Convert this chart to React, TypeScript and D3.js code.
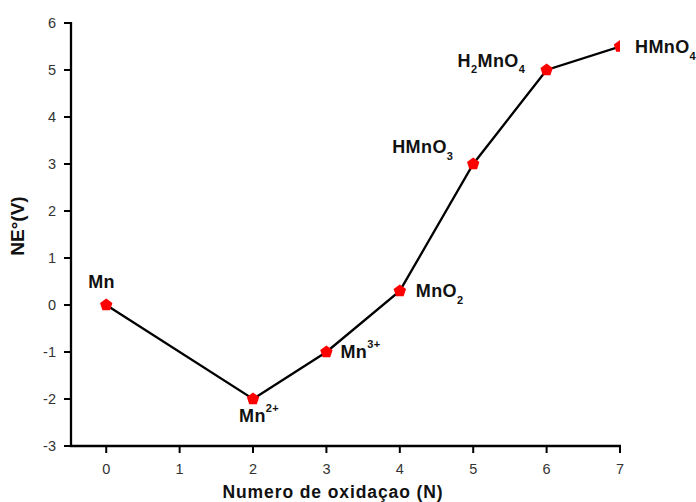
import React from "react";
import * as d3 from "d3";

const oxidationStates = [0, 2, 3, 4, 5, 6, 7];
const voltEquivalents = [0, -2, -1, 0.3, 3, 5, 5.5];
const speciesBase = ["Mn", "Mn", "Mn", "MnO", "HMnO", "H", "HMnO"];
const xTicks = [0, 1, 2, 3, 4, 5, 6, 7];
const yTicks = [-3, -2, -1, 0, 1, 2, 3, 4, 5, 6];

const W = 696;
const H = 502;
const FONT = "'Liberation Sans', Arial, sans-serif";

const x = d3.scaleLinear().domain([-0.48, 7]).range([71, 620]);
const y = d3.scaleLinear().domain([-3, 6]).range([446, 23]);

function pentagonPath(r: number) {
  const pts: [number, number][] = [];
  for (let i = 0; i < 5; i++) {
    const a = -Math.PI / 2 + (i * 2 * Math.PI) / 5;
    pts.push([r * Math.cos(a), r * Math.sin(a)]);
  }
  return d3.line()(pts) + "Z";
}

function SpeciesLabel({ i }: { i: number }) {
  const px = x(oxidationStates[i]);
  const py = y(voltEquivalents[i]);
  const style = {
    fontFamily: FONT,
    fontWeight: 700,
    fontSize: 18,
    letterSpacing: 0.4,
    fill: "#111",
  } as const;
  const sub = { fontSize: 11 } as const;
  switch (i) {
    case 0:
      return (
        <text x={px - 18} y={py - 17} style={style}>
          {speciesBase[0]}
        </text>
      );
    case 1:
      return (
        <text x={px - 14} y={py + 23} style={style}>
          {speciesBase[1]}
          <tspan dy={-10} style={sub}>2+</tspan>
        </text>
      );
    case 2:
      return (
        <text x={px + 14} y={py + 6} style={style}>
          {speciesBase[2]}
          <tspan dy={-10} style={sub}>3+</tspan>
        </text>
      );
    case 3:
      return (
        <text x={px + 16} y={py + 6} style={style}>
          {speciesBase[3]}
          <tspan dy={7} style={sub}>2</tspan>
        </text>
      );
    case 4:
      return (
        <text x={px - 81} y={py - 11} style={style}>
          {speciesBase[4]}
          <tspan dy={7} style={sub}>3</tspan>
        </text>
      );
    case 5:
      return (
        <text x={px - 89} y={py - 3} style={style}>
          {speciesBase[5]}
          <tspan dy={6} style={sub}>2</tspan>
          <tspan dy={-6}>MnO</tspan>
          <tspan dy={6} style={sub}>4</tspan>
        </text>
      );
    default:
      return (
        <text x={px + 15} y={py + 6} style={style}>
          {speciesBase[6]}
          <tspan dy={7} style={sub}>4</tspan>
        </text>
      );
  }
}

export default function App() {
  const line = d3
    .line<number>()
    .x((_, i) => x(oxidationStates[i]))
    .y((v) => y(v));
  const [x0, x1] = x.range();
  const [y0, y1] = y.range();
  const marker = pentagonPath(6.5);

  return (
    <svg
      width={W}
      height={H}
      style={{ position: "absolute", left: 0, top: 0, background: "#fff" }}
    >
      <defs>
        <clipPath id="plotArea">
          <rect x={x0} y={y1 - 20} width={x1 - x0} height={y0 - y1 + 20} />
        </clipPath>
      </defs>

      {/* data line and markers */}
      <g clipPath="url(#plotArea)">
        <path d={line(voltEquivalents) || ""} fill="none" stroke="#000" strokeWidth={2.3} />
        {voltEquivalents.map((v, i) => (
          <path
            key={i}
            d={marker}
            transform={`translate(${x(oxidationStates[i])},${y(v)})`}
            fill="#ff0000"
          />
        ))}
      </g>

      {/* axes */}
      <line x1={x0} x2={x0} y1={y1 - 1} y2={y0 + 1} stroke="#000" strokeWidth={2.3} />
      <line x1={x0 - 1} x2={x1 + 1} y1={y0} y2={y0} stroke="#000" strokeWidth={2.3} />
      {yTicks.map((t) => (
        <g key={t}>
          <line x1={x0 - 7} x2={x0} y1={y(t)} y2={y(t)} stroke="#000" strokeWidth={2} />
          <text
            x={x0 - 15}
            y={y(t)}
            dy="0.36em"
            textAnchor="end"
            style={{ fontFamily: FONT, fontSize: 14.5, fill: "#333" }}
          >
            {t}
          </text>
        </g>
      ))}
      {xTicks.map((t) => (
        <g key={t}>
          <line x1={x(t)} x2={x(t)} y1={y0} y2={y0 + 7} stroke="#000" strokeWidth={2} />
          <text
            x={x(t)}
            y={y0 + 28}
            textAnchor="middle"
            style={{ fontFamily: FONT, fontSize: 14.5, fill: "#333" }}
          >
            {t}
          </text>
        </g>
      ))}

      {/* axis titles */}
      <text
        x={333}
        y={498}
        textAnchor="middle"
        style={{
          fontFamily: FONT,
          fontWeight: 700,
          fontSize: 17.5,
          letterSpacing: 0.9,
          fill: "#111",
        }}
      >
        Numero de oxidaçao (N)
      </text>
      <text
        transform="translate(24,226) rotate(-90)"
        textAnchor="middle"
        style={{ fontFamily: FONT, fontWeight: 700, fontSize: 19, fill: "#111" }}
      >
        NE°(V)
      </text>

      {/* species labels */}
      {voltEquivalents.map((_, i) => (
        <SpeciesLabel key={i} i={i} />
      ))}
    </svg>
  );
}
